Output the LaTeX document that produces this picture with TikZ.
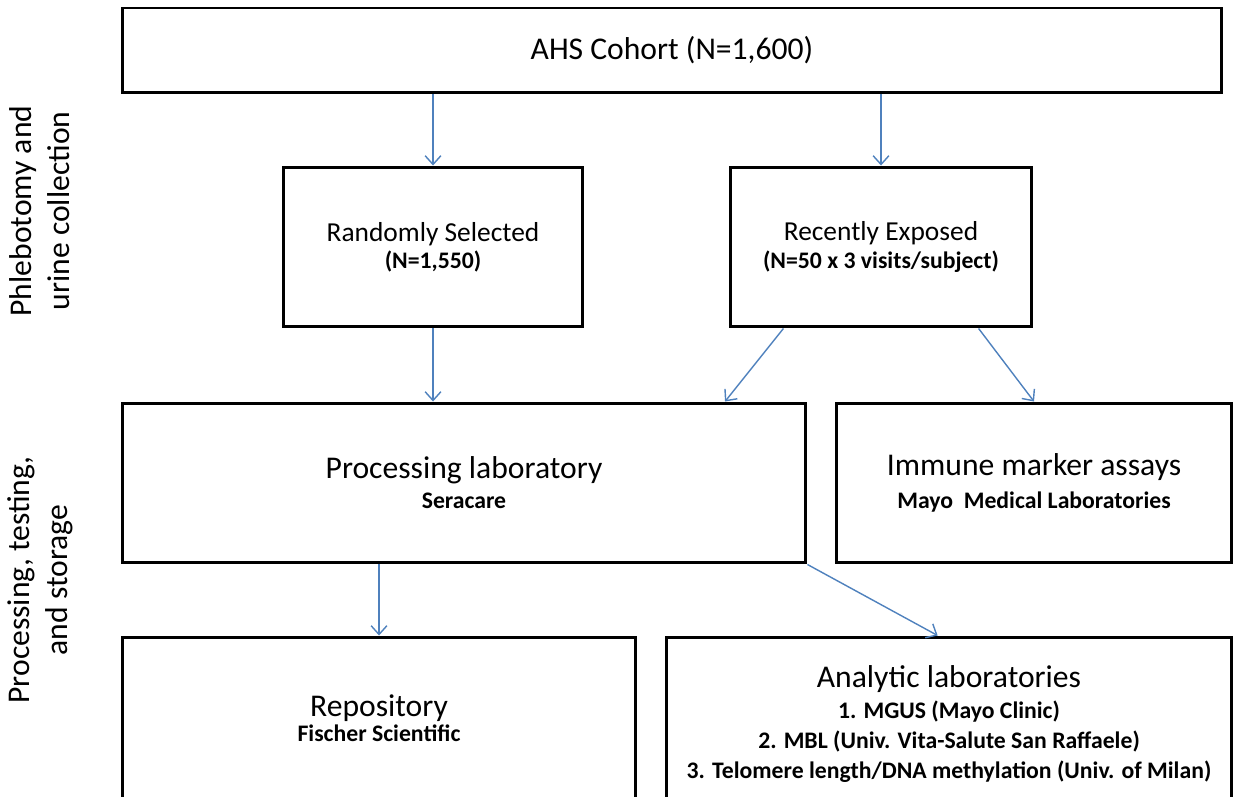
\documentclass[tikz,border=0pt]{standalone}
\usepackage{fontspec}
\setmainfont{Carlito}
\usepackage{tikz}
\usetikzlibrary{arrows.meta, calc}
\definecolor{arrblue}{RGB}{79,129,189}
\newcommand{\bigfnt}{\fontsize{18}{22}\selectfont}
\newcommand{\midfnt}{\fontsize{15.6}{19}\selectfont}
\newcommand{\subfnt}{\fontsize{13.5}{17}\selectfont\bfseries}

\begin{document}
\begin{tikzpicture}[x=0.02cm, y=-0.02cm,
        box/.style={draw, line width=1.7pt, inner sep=0pt, align=center},
        flow/.style={draw=arrblue, line width=0.8pt, -{Straight Barb[length=5pt, width=9pt]}},
        side/.style={rotate=90, align=center, font=\fontsize{18}{21.6}\selectfont}]
        \useasboundingbox (0,0) rectangle (1233,797);
        % Side labels
        \node[side] (s1) at (40, 211) {Phlebotomy and\\urine collection};
        \node[side] (s2) at (40, 580) {Processing, testing,\\and storage};
        % Collection
        \node[box, minimum width=22cm, minimum height=1.7cm] (ahs) at (672, 50.5) {\bigfnt AHS Cohort (N=1,600)};
        \node[box, minimum width=6cm, minimum height=3.2cm] (rand) at (433, 247) {\midfnt Randomly Selected\\[2pt] \subfnt (N=1,550)};
        \node[box, minimum width=6.04cm, minimum height=3.2cm] (rec) at (881, 247) {\midfnt Recently Exposed\\[2pt] \subfnt (N=50 x 3 visits/subject)};
        % Processing, testing and storage
        \node[box, minimum width=13.68cm, minimum height=3.2cm] (proc) at (464, 483) {\bigfnt Processing laboratory\\[5pt] \subfnt Seracare};
        \node[box, minimum width=7.9cm, minimum height=3.2cm] (imm) at (1034, 483) {\bigfnt Immune marker assays\\[5pt] \subfnt Mayo\ \ Medical Laboratories};
        \node[box, minimum width=10.26cm, minimum height=3.24cm] (repo) at (379, 718) {\bigfnt Repository\\[1pt] \subfnt Fischer Scientific};
        \node[box, minimum width=11.3cm, minimum height=3.48cm] (anl) at (949, 724) {\bigfnt Analytic laboratories\\[4pt] \subfnt 1. MGUS (Mayo Clinic)\\[4pt] \subfnt 2. MBL (Univ. Vita-Salute San Raffaele)\\[4pt] \subfnt 3. Telomere length/DNA methylation (Univ. of Milan)};
        \draw[flow] (rand.north |- ahs.south) -- (rand.north);
        \draw[flow] (rec.north |- ahs.south) -- (rec.north);
        \draw[flow] (rand.south) -- (rand.south |- proc.north);
        \draw[flow] ($(rec.south west)!0.18!(rec.south east)$) -- ($(proc.north west)!0.88!(proc.north east)$);
        \draw[flow] ($(rec.south west)!0.82!(rec.south east)$) -- (imm.north);
        \draw[flow] (repo.north |- proc.south) -- (repo.north);
        \draw[flow] (proc.south east) -- ($(anl.north west)!0.48!(anl.north east)$);
    \end{tikzpicture}
\end{document}
